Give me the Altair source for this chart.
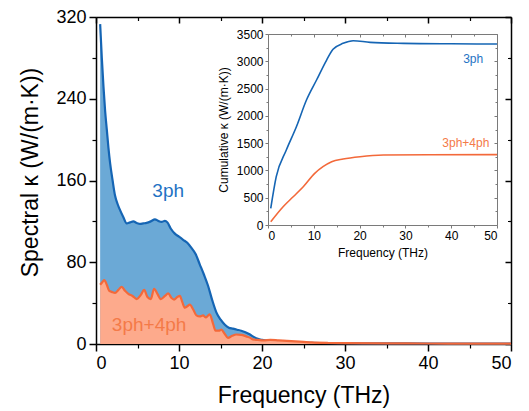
import altair as alt
import pandas as pd

W, H = 415, 327

# ---------------- data ----------------
f3 = [0.5, 0.7, 0.9, 1.1, 1.3, 1.5, 1.7, 2.0, 2.3, 2.6, 2.9, 3.3, 3.7, 4.1, 4.5, 4.9, 5.3,
      5.7, 6.1, 6.6, 7.1, 7.5, 7.9, 8.3, 8.6, 9.0, 9.5, 10.0, 10.5, 11.0, 11.5, 12.0, 12.5,
      13.0, 13.5, 14.0, 14.5, 15.0, 15.5, 16.0, 16.5, 17.0, 17.5, 18.0, 18.5, 19.0, 19.5,
      20.0, 21, 22, 23, 24, 25, 27, 30, 35, 40, 45, 50]
k3 = [313, 280, 252, 228, 210, 192, 177, 160, 145, 137, 131, 124, 118, 119, 120, 118.5, 117.5,
      118, 118.5, 120, 122, 120.5, 119.5, 120.5, 119, 113, 108, 105, 102, 99, 94, 88, 78,
      68, 57, 43, 31, 24, 19, 16, 15, 14, 13, 11.5, 9.5, 7, 5,
      4, 3, 2.5, 2, 1.8, 1.5, 1, 0.8, 0.6, 0.5, 0.4, 0.3]

f34 = [0.5, 0.8, 1.0, 1.3, 1.6, 1.9, 2.3, 2.7, 3.1, 3.5, 3.9, 4.4, 4.9, 5.4, 5.8, 6.2, 6.6,
       7.0, 7.4, 7.8, 8.3, 8.7, 9.1, 9.4, 9.8, 10.1, 10.4, 10.7, 11.0, 11.3, 11.7, 12.1, 12.5,
       12.9, 13.2, 13.7, 14.1, 14.4, 14.8, 15.1, 15.5, 15.9, 16.4, 16.9, 17.5, 18.1, 18.6, 18.9,
       19.5, 20.2, 21, 22, 23, 24, 25, 26, 28, 30, 35, 40, 45, 50]
k34 = [58, 61, 62.5, 58, 52, 51, 50, 53, 56, 52, 49, 47, 44, 48, 53, 46, 44,
       54, 49, 44, 47, 49.5, 45, 43.5, 46, 47, 41, 35.5, 37, 38.5, 34, 28, 27,
       28, 26, 29, 20, 13, 13, 14, 10, 6, 8, 9.3, 9, 7.5, 6, 4.5,
       4, 3.5, 4, 3.5, 3, 2.5, 2, 1.5, 1, 0.8, 0.6, 0.5, 0.4, 0.4]

cf3 = [0.6, 1.8, 4.0, 6.2, 8.4, 10.6, 12.8, 14.2, 16.4, 18.6, 22.3, 29.6, 40, 50]
c3 = [305, 885, 1374, 1801, 2290, 2657, 3023, 3219, 3329, 3377, 3347, 3329, 3320, 3316]

cf34 = [0.6, 3.3, 5.5, 7.7, 10.2, 12.0, 13.9, 16.4, 20.1, 25.2, 35, 50]
c34 = [60, 335, 518, 701, 946, 1068, 1160, 1209, 1252, 1282, 1288, 1290]

main_x_ticks = [0, 10, 20, 30, 40, 50]
main_x_minor = [5, 15, 25, 35, 45]
main_y_ticks = [0, 80, 160, 240, 320]
main_y_minor = [40, 120, 200, 280]
inset_x_ticks = [0, 10, 20, 30, 40, 50]
inset_x_minor = [5, 15, 25, 35, 45]
inset_y_ticks = [0, 500, 1000, 1500, 2000, 2500, 3000, 3500]
inset_y_minor = [250, 750, 1250, 1750, 2250, 2750, 3250]

lab_main = ["3ph", "3ph+4ph"]
lab_main_f = [8.7, 6.4]
lab_main_k = [144, 12.5]
lab_inset = ["3ph", "3ph+4ph"]
lab_inset_f = [44.8, 43.2]
lab_inset_k = [2969, 1435]

BLUE_LINE = "#1565b4"
BLUE_FILL = "#6ba9d6"
OR_LINE = "#f3693a"
OR_FILL = "#fdaa8c"
BLUE_TXT = "#1f73c4"
OR_TXT = "#f47a48"
GRAY = "#7a7a7a"

df3 = pd.DataFrame({"f": f3, "k": k3})
df34 = pd.DataFrame({"f": f34, "k": k34})
dc3 = pd.DataFrame({"f": cf3, "k": c3})
dc34 = pd.DataFrame({"f": cf34, "k": c34})
dl_main = pd.DataFrame({"f": lab_main_f, "k": lab_main_k, "t": lab_main})
dl_inset = pd.DataFrame({"f": lab_inset_f, "k": lab_inset_k, "t": lab_inset})

IX0, IX1 = 172, 401
IY0, IY1 = 208, 17


def mxs():
    return alt.Scale(domain=[0, 50], nice=False, zero=False)


def mys():
    return alt.Scale(domain=[0, 320], nice=False, zero=False)


def ixs():
    return alt.Scale(domain=[0, 50], range=[IX0, IX1], nice=False, zero=False)


def iys():
    return alt.Scale(domain=[0, 3500], range=[IY0, IY1], nice=False, zero=False)


def enc(chart, xs, ys, xa=None, ya=None):
    return chart.encode(
        x=alt.X("f:Q", scale=xs, axis=xa),
        y=alt.Y("k:Q", scale=ys, axis=ya),
    )


def axis_layer(xs, ys, xa, ya):
    return enc(alt.Chart(df3).mark_point(opacity=0), xs, ys, xa, ya)


# ---------------- data layers ----------------
blue_area = enc(alt.Chart(df3).mark_area(
    color=BLUE_FILL, opacity=1, interpolate="monotone",
    line={"color": BLUE_LINE, "strokeWidth": 2.2}), mxs(), mys())
or_area = enc(alt.Chart(df34).mark_area(
    color=OR_FILL, opacity=1, interpolate="monotone",
    line={"color": OR_LINE, "strokeWidth": 2.2}), mxs(), mys())


def text_layer(df, xs, ys, color, size):
    return alt.Chart(df).mark_text(
        color=color, fontSize=size, font="Liberation Sans", align="center",
        baseline="alphabetic"
    ).encode(x=alt.X("f:Q", scale=xs, axis=None), y=alt.Y("k:Q", scale=ys, axis=None),
             text="t:N")


txt_main_b = text_layer(dl_main.iloc[[0]], mxs(), mys(), BLUE_TXT, 19)
txt_main_o = text_layer(dl_main.iloc[[1]], mxs(), mys(), OR_TXT, 19)

inset_b = enc(alt.Chart(dc3).mark_line(color=BLUE_LINE, strokeWidth=1.6, interpolate="monotone"),
              ixs(), iys())
inset_o = enc(alt.Chart(dc34).mark_line(color=OR_LINE, strokeWidth=1.6, interpolate="monotone"),
              ixs(), iys())
txt_in_b = text_layer(dl_inset.iloc[[0]], ixs(), iys(), BLUE_TXT, 12)
txt_in_o = text_layer(dl_inset.iloc[[1]], ixs(), iys(), OR_TXT, 12)

# ---------------- axes ----------------
common = dict(grid=False, labelFont="Liberation Sans", titleFont="Liberation Sans",
              labelColor="#000000", titleColor="#000000", titleFontWeight="normal")

main_major = axis_layer(
    mxs(), mys(),
    alt.Axis(values=main_x_ticks, orient="bottom", tickSize=7, tickWidth=1.5, tickColor="#000000",
             domainColor="#000000", domainWidth=1.5, labelFontSize=18, labelPadding=3,
             title="Frequency (THz)", titleFontSize=23, titlePadding=12, format="d", **common),
    alt.Axis(values=main_y_ticks, orient="left", tickSize=7, tickWidth=1.5, tickColor="#000000",
             domainColor="#000000", domainWidth=1.5, labelFontSize=18, labelPadding=3,
             title="Spectral κ (W/(m·K))", titleFontSize=23, titlePadding=13, titleY=155,
             format="d", **common),
)
main_minor = axis_layer(
    mxs(), mys(),
    alt.Axis(values=main_x_minor, orient="bottom", tickSize=4, tickWidth=1.2, tickColor="#000000",
             domain=False, labels=False, title=None, grid=False),
    alt.Axis(values=main_y_minor, orient="left", tickSize=4, tickWidth=1.2, tickColor="#000000",
             domain=False, labels=False, title=None, grid=False),
)
main_mirror = axis_layer(
    mxs(), mys(),
    alt.Axis(values=main_x_ticks, orient="bottom", offset=-H, tickSize=6, tickWidth=1.5,
             tickColor="#000000", domainColor="#000000", domainWidth=1.5, labels=False,
             title=None, grid=False),
    alt.Axis(values=main_y_ticks, orient="left", offset=-W, tickSize=6, tickWidth=1.5,
             tickColor="#000000", domainColor="#000000", domainWidth=1.5, labels=False,
             title=None, grid=False),
)
main_mirror_minor = axis_layer(
    mxs(), mys(),
    alt.Axis(values=main_x_minor, orient="bottom", offset=-H, tickSize=3.5, tickWidth=1.2,
             tickColor="#000000", domain=False, labels=False, title=None, grid=False),
    alt.Axis(values=main_y_minor, orient="left", offset=-W, tickSize=3.5, tickWidth=1.2,
             tickColor="#000000", domain=False, labels=False, title=None, grid=False),
)

inset_major = axis_layer(
    ixs(), iys(),
    alt.Axis(values=inset_x_ticks, orient="bottom", offset=-(H - IY0), tickSize=3, tickWidth=1,
             tickColor=GRAY, domainColor=GRAY, domainWidth=1, labelFontSize=12, labelPadding=2,
             title="Frequency (THz)", titleFontSize=12, titlePadding=6, format="d", **common),
    alt.Axis(values=inset_y_ticks, orient="left", offset=-IX0, tickSize=3, tickWidth=1,
             tickColor=GRAY, domainColor=GRAY, domainWidth=1, labelFontSize=12, labelPadding=2,
             title="Cumulative κ (W/(m·K))", titleFontSize=12, titlePadding=6, format="d", **common),
)
inset_minor = axis_layer(
    ixs(), iys(),
    alt.Axis(values=inset_x_minor, orient="bottom", offset=-(H - IY0), tickSize=2, tickWidth=1,
             tickColor=GRAY, domain=False, labels=False, title=None, grid=False),
    alt.Axis(values=inset_y_minor, orient="left", offset=-IX0, tickSize=2, tickWidth=1,
             tickColor=GRAY, domain=False, labels=False, title=None, grid=False),
)
inset_mirror = axis_layer(
    ixs(), iys(),
    alt.Axis(values=inset_x_ticks, orient="bottom", offset=-(H - IY1), tickSize=3, tickWidth=1,
             tickColor=GRAY, domainColor=GRAY, domainWidth=1, labels=False, title=None, grid=False),
    alt.Axis(values=inset_y_ticks, orient="left", offset=-IX1, tickSize=3, tickWidth=1,
             tickColor=GRAY, domainColor=GRAY, domainWidth=1, labels=False, title=None, grid=False),
)
inset_mirror_minor = axis_layer(
    ixs(), iys(),
    alt.Axis(values=inset_x_minor, orient="bottom", offset=-(H - IY1), tickSize=2, tickWidth=1,
             tickColor=GRAY, domain=False, labels=False, title=None, grid=False),
    alt.Axis(values=inset_y_minor, orient="left", offset=-IX1, tickSize=2, tickWidth=1,
             tickColor=GRAY, domain=False, labels=False, title=None, grid=False),
)

chart = alt.layer(
    blue_area, or_area, txt_main_b, txt_main_o,
    inset_b, inset_o, txt_in_b, txt_in_o,
    main_major, main_minor, main_mirror, main_mirror_minor,
    inset_major, inset_minor, inset_mirror, inset_mirror_minor,
).resolve_scale(x="independent", y="independent").properties(
    width=W, height=H,
    autosize=alt.AutoSizeParams(type="none"),
    padding={"left": 88, "top": 9, "right": 6, "bottom": 70},
).configure_view(stroke=None).configure(background="white")

chart.save("out.html", embed_options={"renderer": "svg", "actions": False})
